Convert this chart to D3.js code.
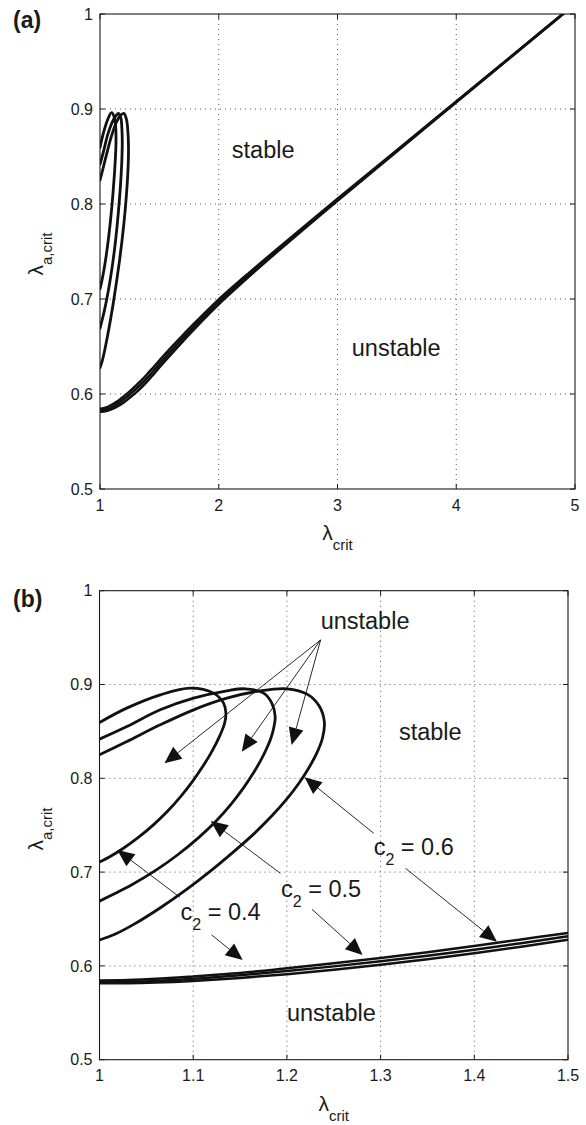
<!DOCTYPE html>
<html><head><meta charset="utf-8">
<script src="https://cdn.jsdelivr.net/npm/d3@7"></script>
<style>
body{margin:0;background:#fff}
svg{display:block}
text{font-family:"Liberation Sans",Arial,Helvetica,sans-serif;fill:#1a1a1a}
</style>
</head><body><svg id="c" width="586" height="1125"></svg>
<script>
// ---------- data ----------
const xTicksA = [1, 2, 3, 4, 5];
const xTickLabelsA = ["1", "2", "3", "4", "5"];
const xTicksB = [1, 1.1, 1.2, 1.3, 1.4, 1.5];
const xTickLabelsB = ["1", "1.1", "1.2", "1.3", "1.4", "1.5"];
const yTicks = [0.5, 0.6, 0.7, 0.8, 0.9, 1];
const yTickLabels = ["0.5", "0.6", "0.7", "0.8", "0.9", "1"];

// loops (upper branch -> turn -> lower branch), c2 = 0.4, 0.5, 0.6
const loop04X = [1.000, 1.029, 1.065, 1.097, 1.1217, 1.1324, 1.1349, 1.1335, 1.1288, 1.1203, 1.1103, 1.0993, 1.0868, 1.0728, 1.0578, 1.0418, 1.0248, 1.0123, 1.000];
const loop04Y = [0.8595, 0.8748, 0.889, 0.8961, 0.8908, 0.8801, 0.8694, 0.8587, 0.8463, 0.8293, 0.8128, 0.7968, 0.7808, 0.7651, 0.7506, 0.7372, 0.7249, 0.7172, 0.7107];
const loop05X = [1.000, 1.0292, 1.0648, 1.1004, 1.1359, 1.1555, 1.1751, 1.184, 1.1875, 1.1862, 1.1830, 1.1780, 1.1715, 1.1635, 1.1535, 1.1405, 1.1245, 1.1055, 1.0835, 1.0595, 1.0345, 1.0165, 1.000];
const loop05Y = [0.8417, 0.8552, 0.873, 0.8854, 0.8932, 0.8954, 0.8908, 0.880, 0.8659, 0.855, 0.843, 0.831, 0.818, 0.8045, 0.7895, 0.7725, 0.7545, 0.7365, 0.7185, 0.7015, 0.6865, 0.6772, 0.6690];
const loop06X = [1.000, 1.0292, 1.0648, 1.1004, 1.1359, 1.1715, 1.200, 1.222, 1.2345, 1.240, 1.238, 1.2315, 1.2230, 1.2130, 1.2000, 1.1840, 1.1650, 1.1430, 1.1190, 1.0930, 1.0650, 1.0370, 1.0170, 1.000];
const loop06Y = [0.825, 0.8392, 0.857, 0.873, 0.8854, 0.8932, 0.8954, 0.8895, 0.877, 0.860, 0.843, 0.826, 0.8105, 0.795, 0.778, 0.760, 0.741, 0.7215, 0.7015, 0.6815, 0.662, 0.6445, 0.634, 0.6276];

// lower stability boundary, c2 = 0.4, 0.5, 0.6
const lowerX   = [1.00, 1.03, 1.06, 1.10, 1.15, 1.20, 1.25, 1.30, 1.35, 1.40, 1.45, 1.50, 1.60, 1.70, 1.80, 1.90, 2.00, 2.25, 2.50, 3.00, 3.50, 4.00, 4.50, 5.00];
const lower06Y = [0.5845, 0.5850, 0.5862, 0.5888, 0.5925, 0.5975, 0.6028, 0.6085, 0.6145, 0.6212, 0.6282, 0.6352, 0.6490, 0.6623, 0.6750, 0.6875, 0.6996, 0.7270, 0.7535, 0.8055, 0.8567, 0.9080, 0.9593, 1.0108];
const lower05Y = [0.5830, 0.5832, 0.5840, 0.5862, 0.5900, 0.5945, 0.5995, 0.6050, 0.6108, 0.6172, 0.6242, 0.6315, 0.6455, 0.6590, 0.6720, 0.6847, 0.6970, 0.7250, 0.7520, 0.8045, 0.8560, 0.9075, 0.9590, 1.0105];
const lower04Y = [0.5815, 0.5815, 0.5822, 0.5840, 0.5872, 0.5912, 0.5960, 0.6012, 0.6070, 0.6135, 0.6205, 0.6280, 0.6420, 0.6557, 0.6690, 0.6819, 0.6944, 0.7230, 0.7505, 0.8035, 0.8553, 0.9070, 0.9587, 1.0102];

// ---------- layout ----------
const svg = d3.select("#c");
const panels = [
  {label: "(a)", labelPos: [13, 28], x0: 100, x1: 575, y0: 14, y1: 489,
   xDom: [1, 5], xTicks: xTicksA, xLabels: xTickLabelsA, yLabelCY: 254},
  {label: "(b)", labelPos: [13, 607], x0: 99.5, x1: 568, y0: 590.7, y1: 1059.7,
   xDom: [1, 1.5], xTicks: xTicksB, xLabels: xTickLabelsB, yLabelCY: 829}
];

const loops = [[loop04X, loop04Y], [loop05X, loop05Y], [loop06X, loop06Y]];
const lowers = [lower04Y, lower05Y, lower06Y];

panels.forEach((p, i) => {
  const x = d3.scaleLinear().domain(p.xDom).range([p.x0, p.x1]);
  const y = d3.scaleLinear().domain([0.5, 1]).range([p.y1, p.y0]);
  p.x = x; p.y = y;
  const g = svg.append("g");

  // grid
  g.selectAll(".gx").data(p.xTicks.slice(1, -1)).enter().append("line")
    .attr("x1", d => x(d)).attr("x2", d => x(d)).attr("y1", p.y0).attr("y2", p.y1)
    .attr("stroke", "#444").attr("stroke-width", 0.9).attr("stroke-dasharray", "1 4");
  g.selectAll(".gy").data(yTicks.slice(1, -1)).enter().append("line")
    .attr("y1", d => y(d)).attr("y2", d => y(d)).attr("x1", p.x0).attr("x2", p.x1)
    .attr("stroke", "#444").attr("stroke-width", 0.9).attr("stroke-dasharray", "1 4");

  // clip
  const cid = "clip" + i;
  svg.append("clipPath").attr("id", cid).append("rect")
    .attr("x", p.x0).attr("y", p.y0).attr("width", p.x1 - p.x0).attr("height", p.y1 - p.y0);
  const cg = g.append("g").attr("clip-path", `url(#${cid})`);

  const lineGen = d3.line().x(d => x(d[0])).y(d => y(d[1])).curve(d3.curveCatmullRom.alpha(0.5));
  loops.forEach(([lx, ly]) => {
    cg.append("path").datum(lx.map((v, k) => [v, ly[k]]))
      .attr("d", lineGen).attr("fill", "none").attr("stroke", "#111")
      .attr("stroke-width", 2.8).attr("stroke-linejoin", "round").attr("stroke-linecap", "round");
  });
  lowers.forEach(ly => {
    cg.append("path").datum(lowerX.map((v, k) => [v, ly[k]]))
      .attr("d", lineGen).attr("fill", "none").attr("stroke", "#111")
      .attr("stroke-width", 2.5).attr("stroke-linejoin", "round");
  });

  // box
  g.append("rect").attr("x", p.x0).attr("y", p.y0).attr("width", p.x1 - p.x0).attr("height", p.y1 - p.y0)
    .attr("fill", "none").attr("stroke", "#1a1a1a").attr("stroke-width", 1.1);

  // ticks (inward, all sides)
  const tl = 5;
  p.xTicks.forEach(t => {
    g.append("line").attr("x1", x(t)).attr("x2", x(t)).attr("y1", p.y1).attr("y2", p.y1 - tl).attr("stroke", "#1a1a1a");
    g.append("line").attr("x1", x(t)).attr("x2", x(t)).attr("y1", p.y0).attr("y2", p.y0 + tl).attr("stroke", "#1a1a1a");
  });
  yTicks.forEach(t => {
    g.append("line").attr("y1", y(t)).attr("y2", y(t)).attr("x1", p.x0).attr("x2", p.x0 + tl).attr("stroke", "#1a1a1a");
    g.append("line").attr("y1", y(t)).attr("y2", y(t)).attr("x1", p.x1).attr("x2", p.x1 - tl).attr("stroke", "#1a1a1a");
  });

  // tick labels
  g.selectAll(".xl").data(p.xTicks).enter().append("text")
    .attr("x", d => x(d)).attr("y", p.y1 + 21.5).attr("text-anchor", "middle")
    .attr("font-size", 16).text((d, k) => p.xLabels[k]);
  g.selectAll(".yl").data(yTicks).enter().append("text")
    .attr("x", p.x0 - 7).attr("y", d => y(d)).attr("dy", "0.36em").attr("text-anchor", "end")
    .attr("font-size", 16).text((d, k) => yTickLabels[k]);

  // axis labels
  const xl = g.append("text").attr("x", (p.x0 + p.x1) / 2).attr("y", p.y1 + 51).attr("text-anchor", "middle");
  xl.append("tspan").attr("font-size", 21).text("λ");
  xl.append("tspan").attr("font-size", 15).attr("dy", 10).text("crit");
  const yl = g.append("text").attr("transform", `translate(${p.x0 - 57},${p.yLabelCY}) rotate(-90)`).attr("text-anchor", "middle");
  yl.append("tspan").attr("font-size", 21).text("λ");
  yl.append("tspan").attr("font-size", 15).attr("dy", 9).text("a,crit");

  // panel label
  g.append("text").attr("x", p.labelPos[0]).attr("y", p.labelPos[1])
    .attr("font-size", 23).attr("font-weight", "bold").text(p.label);
});

// ---------- annotations ----------
const pa = panels[0], pb = panels[1];
const annFont = 23.5;
function label(p, xv, yv, txt) {
  svg.append("text").attr("x", p.x(xv)).attr("y", p.y(yv)).attr("font-size", annFont).text(txt);
}
function c2label(p, xv, yv, val) {
  const t = svg.append("text").attr("x", p.x(xv)).attr("y", p.y(yv)).attr("font-size", annFont);
  t.append("tspan").text("c");
  t.append("tspan").attr("font-size", 16).attr("dy", 10).text("2");
  t.append("tspan").attr("dy", -10).text(" = " + val);
}
function arrow(p, x0, y0, x1, y1) {
  const sx = p.x(x0), sy = p.y(y0), tx = p.x(x1), ty = p.y(y1);
  const dx = tx - sx, dy = ty - sy, len = Math.hypot(dx, dy);
  const ux = dx / len, uy = dy / len;
  const L = 17, W = 7.5;
  const bx = tx - ux * L, by = ty - uy * L;
  svg.append("line").attr("x1", sx).attr("y1", sy).attr("x2", bx).attr("y2", by)
    .attr("stroke", "#111").attr("stroke-width", 0.9);
  svg.append("path")
    .attr("d", `M${tx},${ty}L${bx - uy * W},${by + ux * W}L${bx + uy * W},${by - ux * W}Z`)
    .attr("fill", "#111");
}

// panel (a)
label(pa, 2.11, 0.848, "stable");
label(pa, 3.12, 0.640, "unstable");

// panel (b)
label(pb, 1.236, 0.959, "unstable");
label(pb, 1.3196, 0.8408, "stable");
label(pb, 1.200, 0.541, "unstable");
c2label(pb, 1.0864, 0.649, "0.4");
c2label(pb, 1.1937, 0.6738, "0.5");
c2label(pb, 1.2926, 0.7182, "0.6");

const unstableFrom = [1.236, 0.9475];
arrow(pb, unstableFrom[0], unstableFrom[1], 1.0693, 0.816);
arrow(pb, unstableFrom[0], unstableFrom[1], 1.1518, 0.8284);
arrow(pb, unstableFrom[0], unstableFrom[1], 1.205, 0.8355);
arrow(pb, 1.2926, 0.7414, 1.2189, 0.801);
arrow(pb, 1.3266, 0.704, 1.4242, 0.6258);
arrow(pb, 1.193, 0.6987, 1.1187, 0.7545);
arrow(pb, 1.2268, 0.6603, 1.2807, 0.6116);
arrow(pb, 1.0859, 0.6731, 1.019, 0.7236);
arrow(pb, 1.1197, 0.633, 1.1528, 0.6063);
</script>
</body></html>
